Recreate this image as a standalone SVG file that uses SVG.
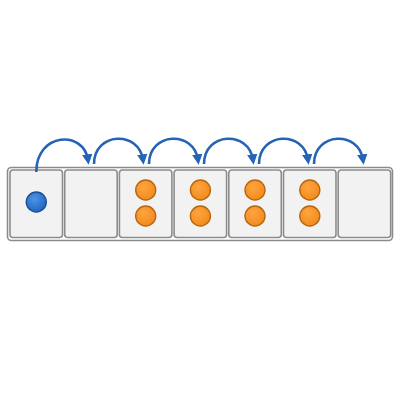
<svg xmlns="http://www.w3.org/2000/svg" width="400" height="400" viewBox="0 0 400 400">
<defs>
<style>
.frame{fill:#ffffff;stroke:#8c8c8c;stroke-width:1.6}
.cell{fill:#f2f2f2;stroke:#8c8c8c;stroke-width:1.6}
.arc{fill:none;stroke:#2563b5;stroke-width:2.6;marker-end:url(#ah)}
.blue{fill:url(#gb);stroke:#1b4f96;stroke-width:1.4}
.orange{fill:url(#go);stroke:#b8650f;stroke-width:1.4}
</style>
<radialGradient id="gb" cx="0.4" cy="0.35" r="0.7">
<stop offset="0" stop-color="#4d94e6"/>
<stop offset="1" stop-color="#1f63bf"/>
</radialGradient>
<radialGradient id="go" cx="0.4" cy="0.35" r="0.7">
<stop offset="0" stop-color="#ffa43f"/>
<stop offset="1" stop-color="#f08a1c"/>
</radialGradient>
<marker id="ah" markerWidth="4" markerHeight="4" refX="2.2" refY="2" orient="auto" markerUnits="strokeWidth">
<path d="M0,0 L4,2 L0,4 Z" fill="#2563b5"/>
</marker>
</defs>
<rect class="frame" x="7.5" y="167.5" width="385" height="73" rx="4"/>
<g id="cell1"><rect class="cell" x="10" y="170" width="52.5" height="67.5" rx="3"/><circle class="blue" cx="36.3" cy="202" r="10"/></g>
<g id="cell2"><rect class="cell" x="64.7" y="170" width="52.5" height="67.5" rx="3"/></g>
<g id="cell3"><rect class="cell" x="119.4" y="170" width="52.5" height="67.5" rx="3"/><circle class="orange" cx="145.7" cy="190" r="10"/><circle class="orange" cx="145.7" cy="216" r="10"/></g>
<g id="cell4"><rect class="cell" x="174.1" y="170" width="52.5" height="67.5" rx="3"/><circle class="orange" cx="200.4" cy="190" r="10"/><circle class="orange" cx="200.4" cy="216" r="10"/></g>
<g id="cell5"><rect class="cell" x="228.8" y="170" width="52.5" height="67.5" rx="3"/><circle class="orange" cx="255" cy="190" r="10"/><circle class="orange" cx="255" cy="216" r="10"/></g>
<g id="cell6"><rect class="cell" x="283.5" y="170" width="52.5" height="67.5" rx="3"/><circle class="orange" cx="309.8" cy="190" r="10"/><circle class="orange" cx="309.8" cy="216" r="10"/></g>
<g id="cell7"><rect class="cell" x="338.2" y="170" width="52.5" height="67.5" rx="3"/></g>
<g id="connectors">
<path class="arc" d="M36.3,172 C36.3,132 84,130 88,160"/>
<path class="arc" d="M94,164 C94,132 139,130 143,160"/>
<path class="arc" d="M149,164 C149,132 194,130 198,160"/>
<path class="arc" d="M204,164 C204,132 249,130 253,160"/>
<path class="arc" d="M259,164 C259,132 304,130 308,160"/>
<path class="arc" d="M314,164 C314,132 359,130 363,160"/>
</g>
</svg>
